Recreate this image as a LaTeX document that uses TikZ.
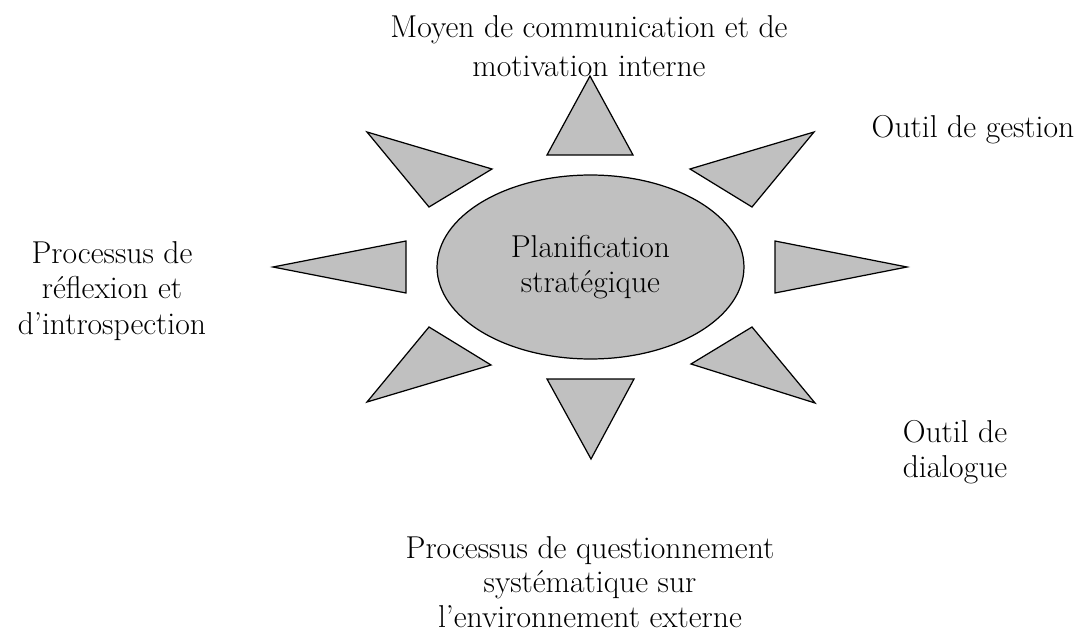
\documentclass[tikz,border=0pt]{standalone}
\usepackage{tikz}
\usetikzlibrary{shapes.geometric}

\definecolor{raygray}{RGB}{192,192,192}

\tikzset{
  ray/.style={draw=black, fill=raygray, line width=0.7pt, line join=miter},
  label/.style={align=center, font=\fontsize{18}{20}\selectfont, inner sep=0pt}
}

\begin{document}
\begin{tikzpicture}[x=0.02cm, y=-0.02cm]

  % Fix the frame to the size of the page
  \useasboundingbox (0,0) rectangle (1082,635);

  % Central ellipse
  \node[ellipse, draw=black, fill=raygray, line width=0.7pt,
        minimum width=6.14cm, minimum height=3.68cm, inner sep=0pt,
        label] (plan) at (590.5,267) {Planification\\stratégique};

  % Rays around the ellipse
  \draw[ray] (547,155) -- (633,155) -- (590,76) -- cycle;   % top
  \draw[ray] (690,169) -- (814,132) -- (752,207) -- cycle;  % upper right
  \draw[ray] (775,241) -- (775,293) -- (907,267) -- cycle;  % right
  \draw[ray] (752,327) -- (691,364) -- (815,403) -- cycle;  % lower right
  \draw[ray] (547,379) -- (634,379) -- (591,459) -- cycle;  % bottom
  \draw[ray] (429,327) -- (491,365) -- (367,402) -- cycle;  % lower left
  \draw[ray] (406,241) -- (406,293) -- (273,267) -- cycle;  % left
  \draw[ray] (367,132) -- (492,169) -- (429,207) -- cycle;  % upper left

  % Labels
  \node[label, font=\fontsize{18}{22}\selectfont] (moyen) at (589,46) {Moyen de communication et de\\motivation interne};
  \node[label] (gestion) at (973,130) {Outil de gestion};
  \node[label] (reflexion) at (112,291) {Processus de\\réflexion et\\d’introspection};
  \node[label] (dialogue) at (955,452) {Outil de\\dialogue};
  \node[label, font=\fontsize{18}{19.5}\selectfont] (question) at (590,582) {Processus de questionnement\\systématique sur\\l’environnement externe};

\end{tikzpicture}
\end{document}
